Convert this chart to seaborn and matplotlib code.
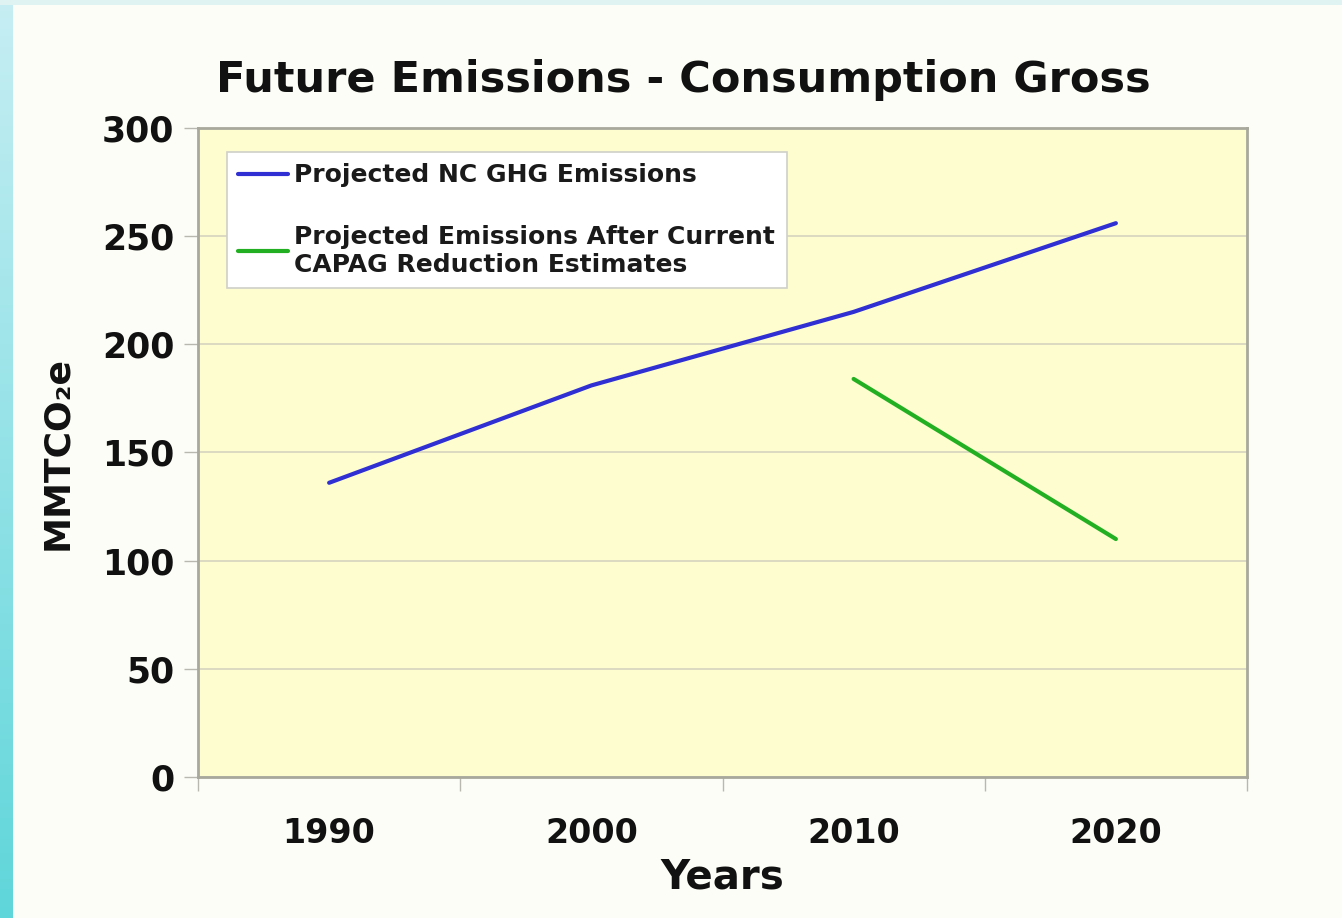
import numpy as np
import pandas as pd
import matplotlib
matplotlib.use("Agg")
import matplotlib.pyplot as plt
import seaborn as sns
from matplotlib.ticker import FixedLocator, NullFormatter, FixedFormatter
from matplotlib.colors import LinearSegmentedColormap

years = [1990, 2000, 2010, 2020]
projected = [136, 181, 215, 256]
after_capag = [np.nan, np.nan, 184, 110]
series_names = ["Projected NC GHG Emissions",
                "Projected Emissions After Current\nCAPAG Reduction Estimates"]
y_ticks = [0, 50, 100, 150, 200, 250, 300]

df = pd.DataFrame({
    "Year": years * 2,
    "Value": projected + after_capag,
    "Series": [series_names[0]] * 4 + [series_names[1]] * 4,
}).dropna()

sns.set_theme(style="white")
plt.rcParams['font.family'] = ['DejaVu Sans']
plt.rcParams['font.weight'] = 'bold'

fig = plt.figure(figsize=(13.42, 9.18), dpi=100)
fig.patch.set_facecolor("#fdfdf7")

# decorative slide border (left gradient stripe and top strip)
bg = fig.add_axes([0, 0, 13 / 1342, 1])
grad = np.linspace(0, 1, 256).reshape(-1, 1)
cmap = LinearSegmentedColormap.from_list("s", ["#5fd6da", "#c6eef3"])
bg.imshow(grad, aspect="auto", cmap=cmap, origin="lower", extent=[0, 1, 0, 1])
bg.set_axis_off()
top = fig.add_axes([0, 1 - 5 / 918, 1, 5 / 918])
top.set_facecolor("#dff3f3")
top.set_xticks([]); top.set_yticks([])
for s in top.spines.values():
    s.set_visible(False)

ax = fig.add_axes([198 / 1342, 1 - 777 / 918, (1247 - 198) / 1342, (777 - 128) / 918])
ax.set_facecolor("#fdfdcf")

sns.lineplot(data=df, x="Year", y="Value", hue="Series",
             palette=["#2f2fd3", "#22b022"], linewidth=3, ax=ax,
             hue_order=series_names)

ax.set_xlim(1985, 2025)
ax.set_ylim(0, 300)
ax.xaxis.set_major_locator(FixedLocator([1985, 1995, 2005, 2015, 2025]))
ax.xaxis.set_major_formatter(NullFormatter())
ax.xaxis.set_minor_locator(FixedLocator(years))
ax.xaxis.set_minor_formatter(FixedFormatter([str(y) for y in years]))
ax.tick_params(axis="x", which="major", direction="out", length=10, width=1,
               color="#b8b8b0", bottom=True)
ax.tick_params(axis="x", which="minor", length=0, pad=29, labelsize=24,
               labelcolor="#111111")
ax.set_yticks(y_ticks)
ax.tick_params(axis="y", which="major", direction="out", length=10, width=1,
               color="#b8b8b0", left=True, labelsize=25, pad=7,
               labelcolor="#111111")
for lab in ax.get_xticklabels(minor=True) + ax.get_yticklabels():
    lab.set_fontweight("bold")

ax.grid(axis="y", color="#d6d4bf", linewidth=1.2)
ax.set_axisbelow(True)
for s in ax.spines.values():
    s.set_color("#a8a89c")
    s.set_linewidth(2)

ax.set_xlabel("Years", fontsize=29, fontweight="bold", labelpad=5, color="#111111")
ax.set_ylabel("MMTCO₂e", fontsize=26, fontweight="bold", labelpad=20, color="#111111")
fig.text(683 / 1342, 1 - 80 / 918, "Future Emissions - Consumption Gross",
         ha="center", va="center", fontsize=31, fontweight="bold", color="#111111")

leg = ax.legend(loc="upper left", bbox_to_anchor=(0.0276, 0.963), borderaxespad=0,
                frameon=True, fancybox=False, handlelength=2.0,
                handletextpad=0.25, labelspacing=1.5, borderpad=0.45,
                prop={"weight": "bold", "size": 18})
leg.get_frame().set_facecolor("white")
leg.get_frame().set_edgecolor("#d0d0c8")
leg.get_frame().set_linewidth(1.2)
leg.get_frame().set_alpha(1)
for t in leg.get_texts():
    t.set_color("#1a1a1a")

fig.savefig("out.png", dpi=100, facecolor=fig.get_facecolor())
